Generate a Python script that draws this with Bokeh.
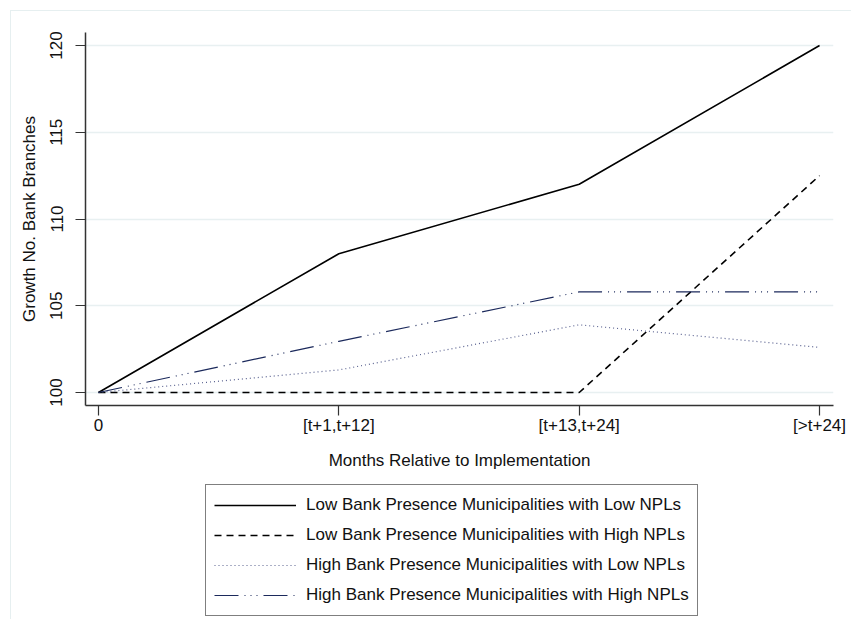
from bokeh.plotting import figure
from bokeh.models import Range1d, FixedTicker, Legend, LegendItem
from bokeh.layouts import column
from bokeh.embed import file_html
from bokeh.resources import INLINE

periods = ["0", "[t+1,t+12]", "[t+13,t+24]", "[>t+24]"]
x_pos = [0, 1, 2, 3]
low_bank_low_npl = [100, 108, 112, 120]
low_bank_high_npl = [100, 100, 100, 112.5]
high_bank_low_npl = [100, 101.3, 103.9, 102.6]
high_bank_high_npl = [100, 102.95, 105.8, 105.8]
y_ticks = [100, 105, 110, 115, 120]
series_labels = [
    "Low Bank Presence Municipalities with Low NPLs",
    "Low Bank Presence Municipalities with High NPLs",
    "High Bank Presence Municipalities with Low NPLs",
    "High Bank Presence Municipalities with High NPLs",
]

FONT = "Liberation Sans"
BORDER = "1px solid #e6eff0"

styles = [
    dict(line_color="black", line_width=1.6),
    dict(line_color="black", line_width=1.6, line_dash="7 5"),
    dict(line_color="#5a6290", line_width=1.2, line_dash="1 3"),
    dict(line_color="#1c2a5c", line_width=1.2, line_dash="24 6 1 5 1 5 1 6"),
]
all_series = [low_bank_low_npl, low_bank_high_npl, high_bank_low_npl, high_bank_high_npl]

p = figure(width=841, height=468, output_backend="svg", toolbar_location=None,
           x_range=Range1d(-0.054, 3.058), y_range=Range1d(99.25, 120.75),
           min_border_left=74, min_border_right=19, min_border_top=21, min_border_bottom=74)
p.styles = {"margin-left": "10px", "margin-top": "10px",
            "border-left": BORDER, "border-top": BORDER}
p.outline_line_color = None
p.background_fill_color = "white"
p.border_fill_color = "white"

p.xgrid.visible = False
p.ygrid.grid_line_color = "#e8f0f1"
p.ygrid.grid_line_width = 1.5

p.xaxis.ticker = FixedTicker(ticks=x_pos)
p.xaxis.major_label_overrides = {i: lab for i, lab in zip(x_pos, periods)}
p.yaxis.ticker = FixedTicker(ticks=y_ticks)
p.yaxis.major_label_orientation = "vertical"

for ax in (p.xaxis[0], p.yaxis[0]):
    ax.axis_line_color = "#333333"
    ax.axis_line_width = 1.5
    ax.major_tick_line_color = "#333333"
    ax.major_tick_line_width = 1.2
    ax.major_tick_out = 10
    ax.major_tick_in = 0
    ax.minor_tick_line_color = None
    ax.major_label_text_font = FONT
    ax.major_label_text_font_size = "17px"
    ax.major_label_text_color = "#111111"
    ax.axis_label_text_font = FONT
    ax.axis_label_text_font_size = "17px"
    ax.axis_label_text_font_style = "normal"
    ax.axis_label_text_color = "#111111"

p.xaxis.axis_label = "Months Relative to Implementation"
p.xaxis.major_label_standoff = 0
p.xaxis.axis_label_standoff = 13
p.yaxis.axis_label = "Growth No. Bank Branches"
p.yaxis.major_label_standoff = 13
p.yaxis.axis_label_standoff = 9

for ys, st in zip(all_series, styles):
    p.line(x_pos, ys, **st)

# legend panel below the chart
lg = figure(width=841, height=141, output_backend="svg", toolbar_location=None,
            x_range=Range1d(0, 1), y_range=Range1d(0, 1),
            min_border_left=0, min_border_right=0, min_border_top=0, min_border_bottom=0)
lg.styles = {"margin-left": "10px", "border-left": BORDER}
lg.axis.visible = False
lg.grid.visible = False
lg.outline_line_color = None
lg.border_fill_color = "white"

items = []
for lab, ys, st in zip(series_labels, all_series, styles):
    # same data, outside this panel's visible range: only the legend sample shows
    r = lg.line(x_pos, ys, **st)
    items.append(LegendItem(label=lab, renderers=[r]))

legend = Legend(items=items, location=(120, 3), orientation="vertical")
legend.border_line_color = "black"
legend.border_line_width = 1.2
legend.background_fill_color = "white"
legend.background_fill_alpha = 1
legend.label_text_font = FONT
legend.label_text_font_size = "17px"
legend.label_text_color = "#111111"
legend.glyph_width = 82
legend.glyph_height = 24
legend.label_height = 24
legend.label_standoff = 10
legend.spacing = 6
legend.padding = 8
legend.margin = 0
lg.add_layout(legend, "center")

layout = column(p, lg, spacing=0)
open("out.html", "w").write(file_html(layout, INLINE))
